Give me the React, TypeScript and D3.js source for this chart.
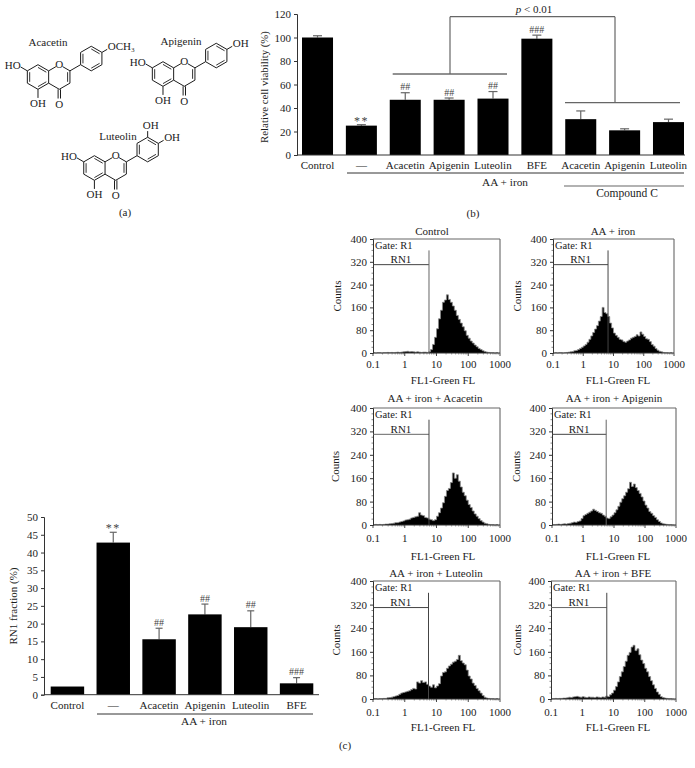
import React, { useEffect, useRef } from 'react';
import * as d3 from 'd3';

// bar chart (b)
const viabilityLabels = ['Control', '—', 'Acacetin', 'Apigenin', 'Luteolin', 'BFE', 'Acacetin', 'Apigenin', 'Luteolin'];
const viabilityValues = [100, 25, 47, 47, 48, 99, 30.5, 21, 28];
const viabilityErrTop = [101.5, 25.8, 53, 48.5, 54, 102, 37.5, 22.3, 30.5];
const viabilityMarks = ['', '**', '##', '##', '##', '###', '', '', ''];
const viabilityTicks = [0, 20, 40, 60, 80, 100, 120];

// bar chart (c)
const rn1Labels = ['Control', '—', 'Acacetin', 'Apigenin', 'Luteolin', 'BFE'];
const rn1Values = [2.3, 42.8, 15.6, 22.6, 19, 3.2];
const rn1ErrTop = [2.3, 45.7, 18.7, 25.5, 23.6, 4.8];
const rn1Marks = ['', '**', '##', '##', '##', '###'];
const rn1Ticks = [0, 5, 10, 15, 20, 25, 30, 35, 40, 45, 50];

// histogram counts, 16 bins per decade from 0.1 to 1000
const controlCounts = [
  1, 0, 1, 1, 0, 1, 1, 2, 1, 2, 1, 2, 3, 2, 3, 4,
  5, 6, 4, 5, 4, 3, 4, 3, 2, 3, 3, 2, 4, 12, 30, 55,
  85, 120, 150, 178, 186, 204, 188, 178, 165, 150, 132, 118, 105, 92, 78, 62,
  52, 42, 35, 28, 22, 16, 12, 8, 5, 3, 2, 1, 1, 0, 1, 0,
];
const ironCounts = [
  0, 1, 0, 1, 1, 0, 1, 2, 3, 4, 5, 8, 9, 12, 16, 20,
  25, 30, 38, 48, 60, 72, 84, 96, 112, 128, 160, 142, 138, 128, 105, 88,
  70, 62, 55, 48, 46, 40, 38, 42, 46, 52, 55, 58, 64, 60, 74, 66,
  58, 50, 48, 40, 30, 24, 16, 10, 6, 4, 2, 1, 1, 0, 1, 0,
];
const acacetinCounts = [
  1, 2, 1, 2, 1, 2, 3, 3, 4, 5, 6, 8, 8, 10, 12, 14,
  17, 18, 20, 24, 26, 28, 30, 42, 34, 32, 26, 24, 20, 18, 15, 18,
  30, 42, 58, 76, 98, 118, 125, 145, 178, 160, 172, 150, 130, 112, 100, 85,
  70, 60, 48, 38, 30, 22, 15, 10, 6, 4, 2, 1, 1, 0, 1, 0,
];
const apigeninCounts = [
  1, 1, 2, 3, 2, 3, 4, 3, 5, 6, 8, 10, 9, 12, 14, 22,
  32, 36, 40, 44, 48, 54, 50, 46, 42, 40, 34, 30, 24, 22, 28, 34,
  42, 52, 64, 78, 90, 100, 112, 124, 146, 132, 140, 128, 118, 108, 96, 82,
  68, 58, 46, 40, 32, 26, 18, 12, 7, 4, 3, 2, 1, 1, 0, 1,
];
const luteolinCounts = [
  1, 1, 0, 1, 1, 2, 2, 4, 5, 6, 8, 10, 12, 16, 20, 22,
  24, 26, 28, 32, 36, 34, 58, 54, 62, 56, 58, 50, 44, 40, 48, 38,
  44, 52, 78, 90, 92, 104, 112, 118, 125, 128, 134, 148, 130, 122, 116, 98,
  78, 68, 54, 46, 36, 28, 20, 12, 6, 3, 2, 1, 1, 0, 1, 0,
];
const bfeCounts = [
  1, 1, 2, 1, 2, 2, 3, 3, 4, 6, 5, 7, 8, 9, 7, 6,
  8, 6, 5, 7, 6, 6, 5, 7, 6, 5, 7, 6, 10, 8, 14, 20,
  30, 42, 58, 76, 92, 110, 128, 148, 158, 176, 182, 164, 170, 150, 132, 120,
  104, 92, 76, 62, 48, 36, 24, 16, 8, 5, 3, 2, 1, 1, 0, 0,
];
const histTitles = ['Control', 'AA + iron', 'AA + iron + Acacetin', 'AA + iron + Apigenin', 'AA + iron + Luteolin', 'AA + iron + BFE'];
const histSeries = [controlCounts, ironCounts, acacetinCounts, apigeninCounts, luteolinCounts, bfeCounts];
const gateValues = [5.8, 6.6, 5.8, 5.6, 5.6, 6.1];
const histCountTicks = [0, 80, 160, 240, 320, 400];
const histXTicks = [0.1, 1, 10, 100, 1000];

const INK = '#1c1c1c';
const GREY = '#666';
const SERIF = '"Liberation Serif", serif';

// where each flow panel sits on the page
const histLayout = [
  { x0: 373, x1: 500, y0: 353, y1: 239, titleX: 432, titleY: 235, tickY: 368, labelX: 443, labelY: 384, countsX: 341 },
  { x0: 553, x1: 674, y0: 353, y1: 239, titleX: 613, titleY: 235, tickY: 368, labelX: 618, labelY: 384, countsX: 521 },
  { x0: 373, x1: 500, y0: 525, y1: 408, titleX: 435, titleY: 402, tickY: 542, labelX: 443, labelY: 560, countsX: 339 },
  { x0: 552, x1: 676, y0: 525, y1: 408, titleX: 614, titleY: 402, tickY: 542, labelX: 618, labelY: 560, countsX: 520 },
  { x0: 373, x1: 500, y0: 699, y1: 581, titleX: 436, titleY: 577, tickY: 716, labelX: 443, labelY: 731, countsX: 340 },
  { x0: 551, x1: 676, y0: 699, y1: 581, titleX: 613, titleY: 577, tickY: 716, labelX: 618, labelY: 731, countsX: 521 },
];

type Sel = d3.Selection<SVGGElement, unknown, null, undefined>;

function addText(g: Sel, x: number, y: number, text: string, size = 11, anchor = 'middle') {
  return g.append('text')
    .attr('x', x)
    .attr('y', y)
    .attr('text-anchor', anchor)
    .attr('font-size', size)
    .attr('fill', INK)
    .text(text);
}

function addLine(g: Sel, x1: number, y1: number, x2: number, y2: number, color = INK, w = 1) {
  g.append('line')
    .attr('x1', x1).attr('y1', y1).attr('x2', x2).attr('y2', y2)
    .attr('stroke', color).attr('stroke-width', w);
}

function drawBars(
  g: Sel,
  opts: { labels: string[]; values: number[]; errTop: number[]; marks: string[]; ticks: number[]; max: number; left: number; right: number; axisX: number; axisEnd: number; top: number; bottom: number; padding: number; labelY: number; starGap: number; capW: number },
) {
  const x = d3.scaleBand<number>()
    .domain(opts.labels.map((_, i) => i))
    .range([opts.left, opts.right])
    .paddingInner(opts.padding);
  const y = d3.scaleLinear().domain([0, opts.max]).range([opts.bottom, opts.top]);

  const bw = x.bandwidth();
  opts.values.forEach((v, i) => {
    const cx = x(i)! + bw / 2;
    if (opts.errTop[i] > v) {
      addLine(g, cx, y(v), cx, y(opts.errTop[i]), GREY, 1.2);
      addLine(g, cx - opts.capW / 2, y(opts.errTop[i]), cx + opts.capW / 2, y(opts.errTop[i]), GREY, 1.2);
    }
    g.append('rect')
      .attr('x', x(i)!)
      .attr('y', y(v))
      .attr('width', bw)
      .attr('height', y(0) - y(v))
      .attr('fill', '#000');
    const mark = opts.marks[i];
    if (mark === '**') {
      addText(g, cx, y(opts.errTop[i]) - opts.starGap, mark, 12).attr('fill', '#444').attr('letter-spacing', 1.5);
    } else if (mark) {
      addText(g, cx, y(opts.errTop[i]) - 2.5, mark, 10).attr('fill', '#444');
    }
    addText(g, cx, opts.labelY, opts.labels[i], 11);
  });

  const axis = g.append('g')
    .attr('transform', `translate(${opts.axisX},0)`)
    .call(d3.axisLeft(y).tickValues(opts.ticks).tickFormat(d3.format('d')).tickSize(3).tickPadding(3));
  axis.selectAll('text').attr('font-size', 11).attr('font-family', SERIF).attr('fill', INK);
  axis.selectAll('line').attr('stroke', '#333');
  axis.select('.domain').attr('stroke', '#333');
  addLine(g, opts.axisX, opts.bottom, opts.axisEnd, opts.bottom, '#333', 1);
}

function drawHistogram(g: Sel, i: number) {
  const p = histLayout[i];
  const counts = histSeries[i];
  const x = d3.scaleLog().domain([0.1, 1000]).range([p.x0, p.x1]);
  const y = d3.scaleLinear().domain([0, 400]).range([p.y0, p.y1]);
  const binX = (k: number) => x(Math.pow(10, -1 + k / 16));

  const area = d3.area<number>()
    .x((_, k) => binX(k))
    .y0(y(0))
    .y1(d => y(d))
    .curve(d3.curveStepAfter);
  const top = d3.line<number>()
    .x((_, k) => binX(k))
    .y(d => y(d))
    .curve(d3.curveStepAfter);

  g.append('path').attr('d', area(counts)!).attr('fill', '#000');
  g.append('path').attr('d', top(counts)!).attr('fill', 'none').attr('stroke', '#8a8a8a').attr('stroke-width', 0.8);

  // frame: plain top and right edge
  addLine(g, p.x0, p.y1, p.x1, p.y1, GREY, 1.1);
  addLine(g, p.x1, p.y1, p.x1, p.y0, GREY, 1.1);

  const left = g.append('g')
    .attr('transform', `translate(${p.x0},0)`)
    .call(d3.axisLeft(y).tickValues(histCountTicks).tickFormat(d3.format('d')).tickSize(3).tickPadding(3));
  left.selectAll('text').attr('font-size', 11).attr('font-family', SERIF).attr('fill', INK);
  left.selectAll('line').attr('stroke', '#333');
  left.select('.domain').attr('stroke', '#333');
  d3.range(20, 400, 20).filter(v => v % 80 !== 0).forEach(v => {
    addLine(g, p.x0 - 1.5, y(v), p.x0, y(v), '#555', 0.7);
  });

  addLine(g, p.x0, y(0), p.x1, y(0), '#333', 1);
  histXTicks.forEach(t => {
    addLine(g, x(t), y(0), x(t), y(0) + 3, '#333', 0.9);
    addText(g, x(t), p.tickY, String(t), 11);
  });
  d3.range(0, 4).forEach(d => {
    [2, 3, 4, 5, 6, 7, 8, 9].forEach(m => {
      const v = Math.pow(10, d - 1) * m;
      addLine(g, x(v), y(0), x(v), y(0) + 1.5, '#555', 0.6);
    });
  });

  // gate marker
  const gx = x(gateValues[i]);
  addLine(g, p.x0, y(310), gx, y(310), i % 3 === 2 ? '#666' : '#444', 1);
  addLine(g, gx, y(360), gx, y(0), i % 3 === 0 ? '#666' : '#444', 1);
  addText(g, p.x0 + 2, p.y1 + 9.5, 'Gate: R1', 10.5, 'start');
  addText(g, (p.x0 + gx) / 2, y(316), 'RN1', 11);

  addText(g, p.titleX, p.titleY, histTitles[i], 11);
  addText(g, p.labelX, p.labelY, 'FL1-Green FL', 11);
  addText(g, 0, 0, 'Counts', 11)
    .attr('transform', `translate(${p.countsX},${(p.y0 + p.y1) / 2}) rotate(-90)`);
}

// flavone skeleton built from a hexagon lattice around the pyran ring
function drawFlavone(
  g: Sel,
  cx: number,
  cy: number,
  L: number,
  subs: { text: string; vertex: number }[],
) {
  const s3 = Math.sqrt(3);
  const hex = (ox: number, oy: number) =>
    d3.range(6).map(k => {
      const a = (-90 + 60 * k) * Math.PI / 180;
      return [ox + L * Math.cos(a), oy + L * Math.sin(a)] as [number, number];
    });
  const seg = (a: number[], b: number[], w = 1) => addLine(g, a[0], a[1], b[0], b[1], INK, w);
  // inner stroke of a double bond
  const dbl = (a: number[], b: number[], ox: number, oy: number) => {
    const t = 0.78;
    const q = (p: number[]) => [ox + (p[0] - ox) * t, oy + (p[1] - oy) * t];
    seg(q(a), q(b), 0.9);
  };

  const cRing = hex(cx, cy);
  const aC = [cx - s3 * L, cy];
  const aRing = hex(aC[0], aC[1]);
  const bCx = cRing[1][0] + s3 * L;
  const bCy = cRing[1][1] - L;
  const bRing = hex(bCx, bCy);

  aRing.forEach((p, k) => seg(p, aRing[(k + 1) % 6]));
  [[0, 1], [2, 3], [4, 5]].forEach(([a, b]) => dbl(aRing[a], aRing[b], aC[0], aC[1]));

  // pyran ring, leaving a gap for the O at the top
  const shorten = (a: number[], b: number[]) => [a[0] + (b[0] - a[0]) * 0.32, a[1] + (b[1] - a[1]) * 0.32];
  seg(shorten(cRing[0], cRing[1]), cRing[1]);
  seg(cRing[1], cRing[2]);
  seg(cRing[2], cRing[3]);
  seg(cRing[3], cRing[4]);
  seg(cRing[5], shorten(cRing[0], cRing[5]));
  dbl(cRing[1], cRing[2], cx, cy);
  addText(g, cRing[0][0], cRing[0][1] + 3.5, 'O', 11);

  // carbonyl
  const c4 = cRing[3];
  addLine(g, c4[0] - 1.2, c4[1], c4[0] - 1.2, c4[1] + L * 0.75, INK, 1);
  addLine(g, c4[0] + 1.2, c4[1], c4[0] + 1.2, c4[1] + L * 0.75, INK, 1);
  addText(g, c4[0], c4[1] + L * 0.75 + 9, 'O', 11);

  // OH on the A ring
  const c5 = aRing[3];
  seg(c5, [c5[0], c5[1] + L * 0.7]);
  addText(g, c5[0], c5[1] + L * 0.7 + 9, 'OH', 11);
  const c7 = aRing[5];
  seg(c7, [c7[0] - L * 0.55, c7[1] - L * 0.32]);
  addText(g, c7[0] - L * 0.55, c7[1] - L * 0.32 + 2, 'HO', 11, 'end');

  // B ring
  seg(cRing[1], bRing[4]);
  bRing.forEach((p, k) => seg(p, bRing[(k + 1) % 6]));
  [[0, 1], [2, 3], [4, 5]].forEach(([a, b]) => dbl(bRing[a], bRing[b], bCx, bCy));
  subs.forEach(s => {
    const v = bRing[s.vertex];
    const dx = v[0] - bCx;
    const dy = v[1] - bCy;
    const e = [v[0] + dx * 0.5, v[1] + dy * 0.5];
    seg(v, e);
    if (s.vertex === 0) addText(g, e[0] + 3, e[1] - 2, s.text, 11);
    else addText(g, e[0] + 0.5, e[1] + 1, s.text, 11, 'start');
  });
}

export default function App() {
  const svgRef = useRef<SVGSVGElement>(null);

  useEffect(() => {
    const svg = d3.select(svgRef.current!);
    svg.selectAll('*').remove();
    const g = svg.append('g').attr('font-family', SERIF) as unknown as Sel;

    // (a) structures
    addText(g, 48, 46, 'Acacetin');
    drawFlavone(g, 59.3, 77, 12.3, [{ text: 'OCH₃', vertex: 1 }]);
    addText(g, 181, 45, 'Apigenin');
    drawFlavone(g, 184.3, 74, 12.3, [{ text: 'OH', vertex: 1 }]);
    addText(g, 118, 140, 'Luteolin');
    drawFlavone(g, 115.7, 168, 12.3, [{ text: 'OH', vertex: 0 }, { text: 'OH', vertex: 1 }]);
    addText(g, 125, 216, '(a)');

    // (b)
    drawBars(g, {
      labels: viabilityLabels, values: viabilityValues, errTop: viabilityErrTop, marks: viabilityMarks,
      ticks: viabilityTicks, max: 120, left: 302, right: 684, axisX: 297, axisEnd: 685,
      top: 14, bottom: 155, padding: 0.293, labelY: 169, starGap: 0, capW: 9,
    });
    addText(g, 0, 0, 'Relative cell viability (%)', 10.8)
      .attr('transform', 'translate(268,87) rotate(-90)');
    // bracket for p < 0.01
    addLine(g, 392.7, 74, 507, 74, '#222', 1);
    addLine(g, 565, 102.7, 680, 102.7, GREY, 1.2);
    addLine(g, 450, 74, 450, 16.7, GREY, 1.2);
    addLine(g, 450, 16.7, 615, 16.7, GREY, 1.2);
    addLine(g, 615, 16.7, 615, 102.7, GREY, 1.2);
    const pText = addText(g, 534, 13, '', 11);
    pText.append('tspan').attr('font-style', 'italic').text('p');
    pText.append('tspan').text(' < 0.01');
    addLine(g, 347, 173, 684, 173, '#333', 1);
    addText(g, 505, 186, 'AA + iron', 11.3);
    addLine(g, 564, 186, 684, 186, GREY, 1.1);
    addText(g, 627, 197, 'Compound C', 11.5);
    addText(g, 473, 217, '(b)');

    // (c) bars
    drawBars(g, {
      labels: rn1Labels, values: rn1Values, errTop: rn1ErrTop, marks: rn1Marks,
      ticks: rn1Ticks, max: 50, left: 50.7, right: 313.3, axisX: 44, axisEnd: 319,
      top: 517, bottom: 694.7, padding: 0.27, labelY: 709, starGap: 0, capW: 7,
    });
    addText(g, 0, 0, 'RN1 fraction (%)', 11)
      .attr('transform', 'translate(17,606) rotate(-90)');
    addLine(g, 97, 714, 313, 714, '#333', 1);
    addText(g, 204, 725, 'AA + iron', 11.3);
    addText(g, 345, 749, '(c)');

    histSeries.forEach((_, i) => drawHistogram(g, i));
  }, []);

  return (
    <svg
      ref={svgRef}
      width={695}
      height={768}
      style={{ position: 'absolute', left: 0, top: 0, background: '#fff' }}
    />
  );
}
